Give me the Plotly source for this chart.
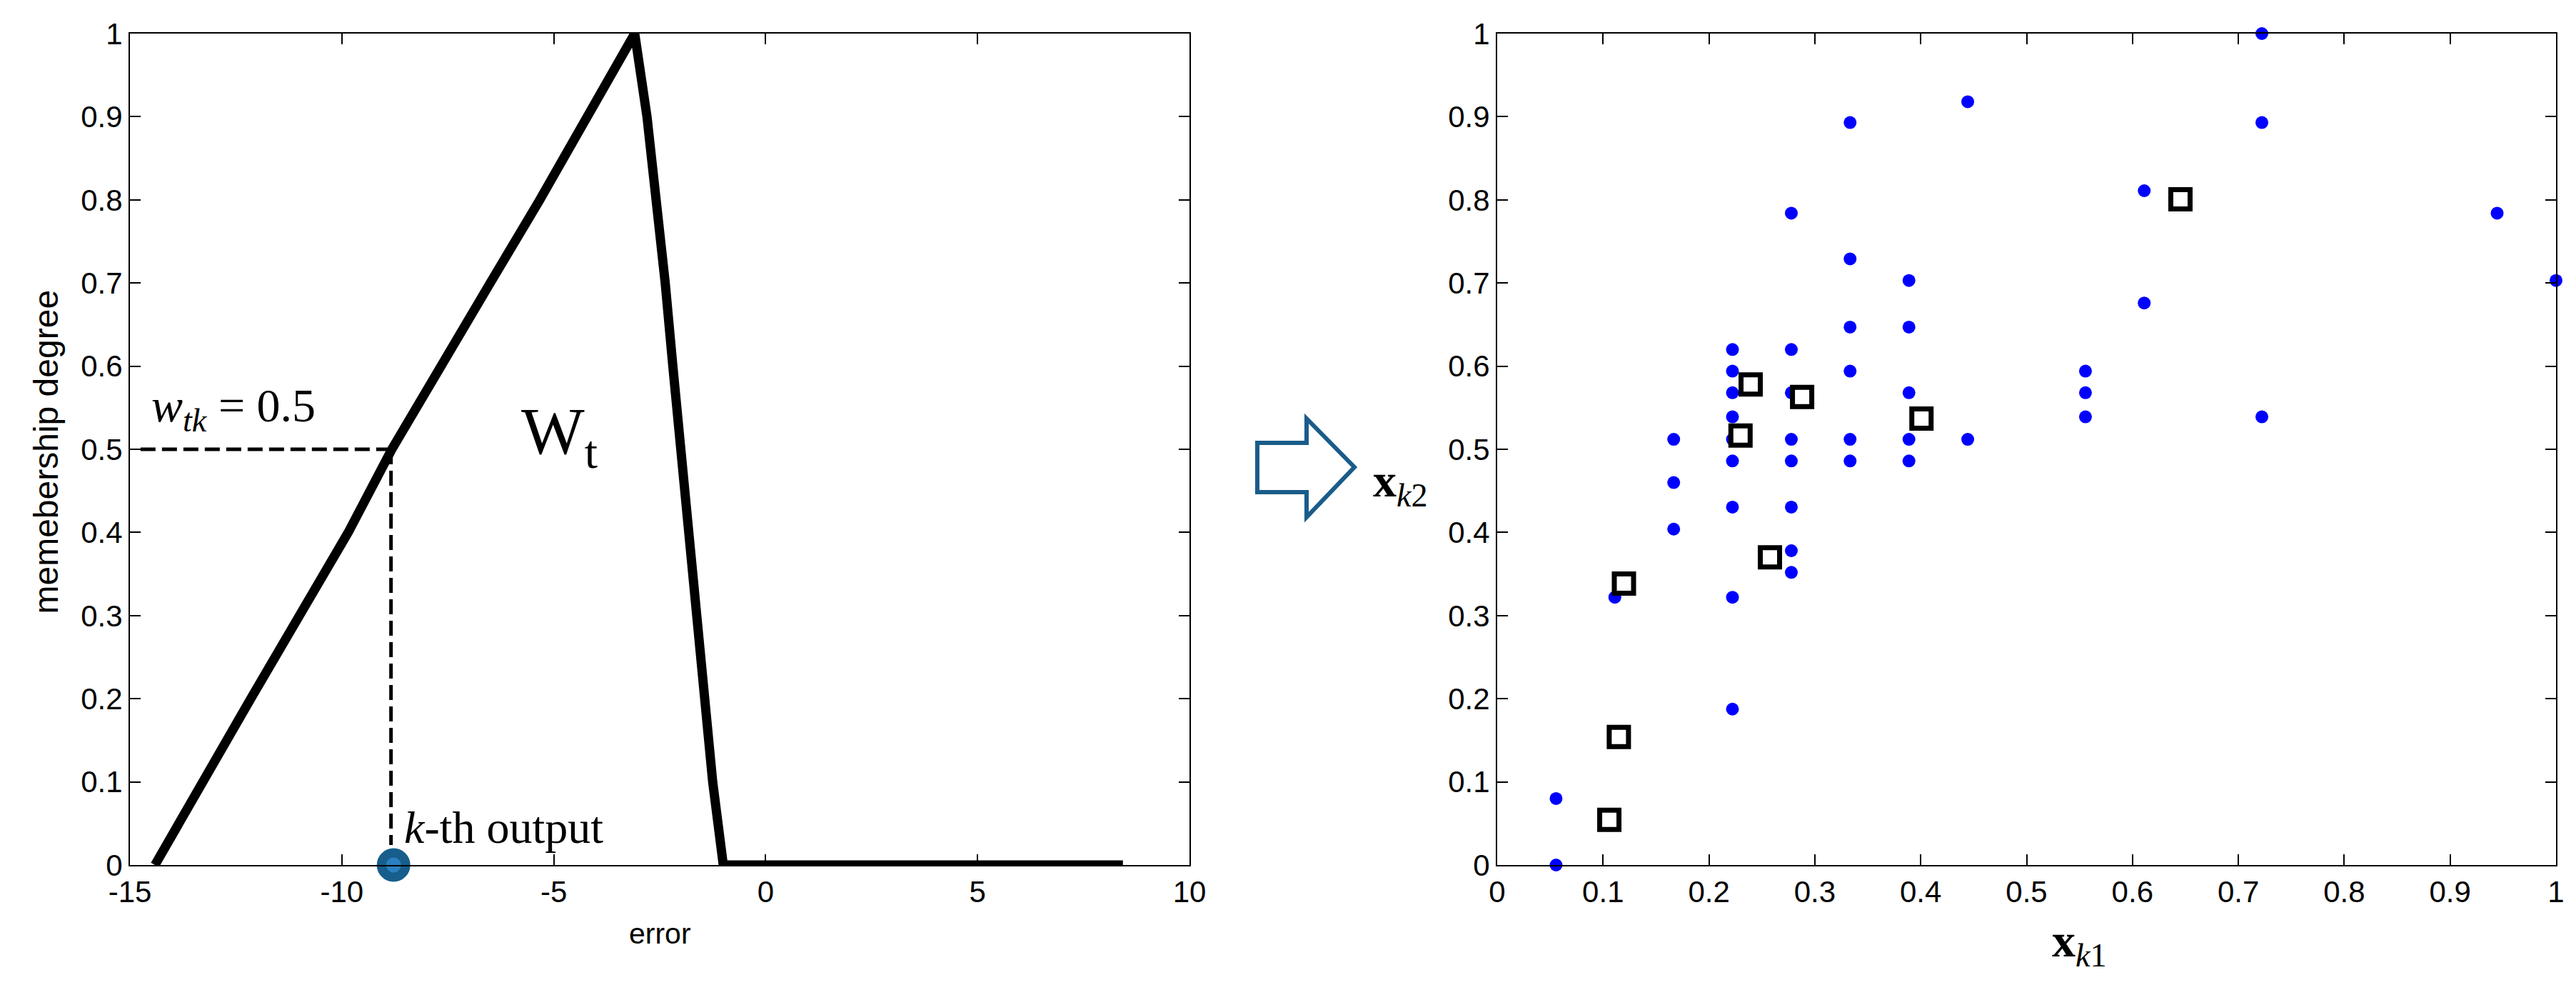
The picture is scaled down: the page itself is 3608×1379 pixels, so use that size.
import plotly.graph_objects as go

# left panel: membership function W_t over the error
err_curve = [-14.41, -13.3, -12.15, -11.0, -9.85, -8.82, -7.68, -6.5, -5.33, -4.21, -3.09,
             -2.8, -2.57, -2.37, -2.19, -2.01, -1.82, -1.64, -1.45, -1.25, -1.0, 8.43]
mem_curve = [0.0, 0.1, 0.2, 0.3, 0.4, 0.5, 0.6, 0.7, 0.8, 0.9, 1.0,
             0.9, 0.8, 0.7, 0.6, 0.5, 0.4, 0.3, 0.2, 0.1, 0.0, 0.0]

w_level = 0.5          # w_tk
k_error = -8.84        # error of the k-th output
k_marker_x = -8.78
dash_start = -14.75
dash_end = 0.024

# right panel: samples (blue dots) and prototypes (squares)
x1 = [0.0556, 0.0556,
      0.1111, 0.1111, 0.1111,
      0.1667, 0.1667, 0.1667,
      0.2222, 0.2222, 0.2222, 0.2222, 0.2222, 0.2222, 0.2222, 0.2222, 0.2222,
      0.2778, 0.2778, 0.2778, 0.2778, 0.2778, 0.2778, 0.2778, 0.2778,
      0.3333, 0.3333, 0.3333, 0.3333, 0.3333, 0.3333,
      0.3889, 0.3889, 0.3889, 0.3889, 0.3889,
      0.4444, 0.4444,
      0.5556, 0.5556, 0.5556,
      0.6111, 0.6111,
      0.7222, 0.7222, 0.7222,
      0.9444,
      1.0]
x2 = [0.08, 0.0,
      0.322, 0.16, 0.053,
      0.512, 0.46, 0.404,
      0.62, 0.594, 0.568, 0.539, 0.512, 0.486, 0.4305, 0.322, 0.1875,
      0.784, 0.62, 0.568, 0.512, 0.486, 0.4305, 0.378, 0.352,
      0.893, 0.729, 0.647, 0.594, 0.512, 0.486,
      0.703, 0.647, 0.568, 0.512, 0.486,
      0.918, 0.512,
      0.594, 0.568, 0.539,
      0.811, 0.676,
      1.0, 0.893, 0.539,
      0.784,
      0.703]

proto_x1 = [0.2394, 0.288, 0.2298, 0.4007, 0.1197, 0.2576, 0.1149, 0.1059, 0.6453]
proto_x2 = [0.578, 0.563, 0.5165, 0.537, 0.3385, 0.370, 0.154, 0.0543, 0.8007]

left_xticks = [-15, -10, -5, 0, 5, 10]
left_xtext = ["-15", "-10", "-5", "0", "5", "10"]
unit_ticks = [0, 0.1, 0.2, 0.3, 0.4, 0.5, 0.6, 0.7, 0.8, 0.9, 1]
unit_text = ["0", "0.1", "0.2", "0.3", "0.4", "0.5", "0.6", "0.7", "0.8", "0.9", "1"]

W, H = 3608, 1379
sans = "Liberation Sans, Arial, sans-serif"
serif = "Liberation Serif, Times New Roman, serif"

fig = go.Figure()

fig.add_trace(go.Scatter(x=[dash_start, k_error], y=[w_level, w_level], mode="lines",
                         line=dict(color="black", width=5, dash="21px,9px"),
                         xaxis="x", yaxis="y"))
fig.add_trace(go.Scatter(x=[k_error, k_error], y=[w_level, dash_end], mode="lines",
                         line=dict(color="black", width=5, dash="21px,9px"),
                         xaxis="x", yaxis="y"))
fig.add_trace(go.Scatter(x=err_curve, y=mem_curve, mode="lines",
                         line=dict(color="black", width=13),
                         cliponaxis=False, xaxis="x", yaxis="y"))
fig.add_trace(go.Scatter(x=[k_marker_x], y=[0], mode="markers",
                         marker=dict(size=34, color="#2A80C0",
                                     line=dict(color="#175E8C", width=13)),
                         cliponaxis=False, xaxis="x", yaxis="y"))

fig.add_trace(go.Scatter(x=x1, y=x2, mode="markers",
                         marker=dict(size=18, color="#0000FF"),
                         cliponaxis=False, xaxis="x2", yaxis="y2"))
fig.add_trace(go.Scatter(x=proto_x1, y=proto_x2, mode="markers",
                         marker=dict(symbol="square", size=27, color="white",
                                     line=dict(color="black", width=7)),
                         cliponaxis=False, xaxis="x2", yaxis="y2"))

axis_common = dict(showline=True, linecolor="black", linewidth=2, mirror="ticks",
                   ticks="inside", ticklen=15, tickwidth=2, tickcolor="black",
                   showgrid=False, zeroline=False, automargin=False,
                   tickfont=dict(family=sans, size=42, color="black"))

ydom = [1 - 1211 / H, 1 - 47 / H]
fig.update_layout(
    width=W, height=H,
    margin=dict(l=0, r=0, t=0, b=0, autoexpand=False),
    paper_bgcolor="white", plot_bgcolor="white",
    showlegend=False,
    xaxis=dict(domain=[182 / W, 1666 / W], range=[-15, 10],
               tickvals=left_xticks, ticktext=left_xtext, anchor="y", **axis_common),
    yaxis=dict(domain=ydom, range=[0, 1], tickvals=unit_ticks, ticktext=unit_text,
               anchor="x", **axis_common),
    xaxis2=dict(domain=[2097 / W, 3580 / W], range=[0, 1],
                tickvals=unit_ticks, ticktext=unit_text, anchor="y2", **axis_common),
    yaxis2=dict(domain=ydom, range=[0, 1], tickvals=unit_ticks, ticktext=unit_text,
                anchor="x2", **axis_common),
)

ann = [
    dict(text="memebership degree", x=35 / W, y=1 - 633 / H, xref="paper", yref="paper",
         textangle=-90, font=dict(family=sans, size=48, color="black")),
    dict(text="error", x=-2.5, y=1 - 1282 / H, xref="x", yref="paper", yanchor="top",
         font=dict(family=sans, size=41, color="black")),
    dict(text="<i>w</i><sub><i>tk</i></sub> = 0.5", x=-14.52, y=0.586, xref="x", yref="y",
         xanchor="left", yanchor="top", font=dict(family=serif, size=66, color="black")),
    dict(text="W<sub>t</sub>", x=-5.8, y=0.569, xref="x", yref="y",
         xanchor="left", yanchor="top", font=dict(family=serif, size=94, color="black")),
    dict(text="<i>k</i>-th output", x=-8.57, y=0.077, xref="x", yref="y",
         xanchor="left", yanchor="top", font=dict(family=serif, size=64, color="black")),
    dict(text="<b>x</b><sub><i>k</i>2</sub>", x=1921 / W, y=1 - 634 / H,
         xref="paper", yref="paper", xanchor="left", yanchor="top",
         font=dict(family=serif, size=66, color="black")),
    dict(text="<b>x</b><sub><i>k</i>1</sub>", x=2872 / W, y=1 - 1278 / H,
         xref="paper", yref="paper", xanchor="left", yanchor="top",
         font=dict(family=serif, size=66, color="black")),
]
for a in ann:
    a["showarrow"] = False
    fig.add_annotation(**a)

# outlined block arrow between the panels
arrow_pts = [(1761, 620), (1830, 620), (1830, 586), (1897, 654),
             (1830, 724), (1830, 689), (1761, 689)]
path = "M " + " L ".join(f"{px / W:.5f},{1 - py / H:.5f}" for px, py in arrow_pts) + " Z"
fig.add_shape(type="path", path=path, xref="paper", yref="paper",
              line=dict(color="#1A5C8A", width=6), fillcolor="white")

# page body has an 8px default margin; drop it so the figure sits at the corner
fig.write_html("out.html", config={"displayModeBar": False},
               post_script="document.body.style.margin='0';")
